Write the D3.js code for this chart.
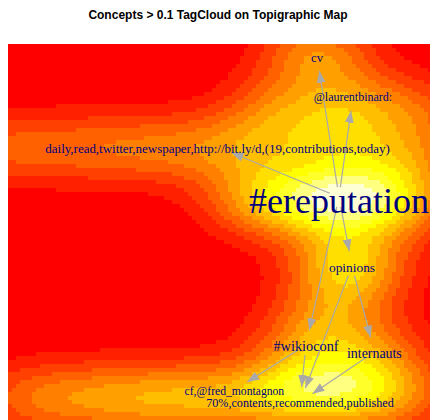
<!DOCTYPE html>
<html>
<head>
<meta charset="utf-8">
<script src="https://cdn.jsdelivr.net/npm/d3@7.9.0/dist/d3.min.js"></script>
<style>
  body { margin: 0; background: #fff; }
  svg { display: block; }
</style>
</head>
<body>
<svg id="chart" width="430" height="420"></svg>
<script>
const title = "Concepts > 0.1 TagCloud on Topigraphic Map";

// concepts on the map (map units) and their score
const concepts = ["cv", "@laurentbinard:", "daily,read,twitter,newspaper,http://bit.ly/d,(19,contributions,today)",
  "#ereputation", "opinions", "#wikioconf", "internauts", "cf,@fred_montagnon",
  "70%,contents,recommended,published"];
const conceptX = [77.25, 86.25, 52.4, 82.75, 86, 74.5, 91.6, 56.6, 73];
const conceptY = [94, 84, 71.25, 58.75, 41.5, 21.75, 20, 10.5, 7.5];
const conceptScore = [0.14, 0.115, 0.15, 1, 0.165, 0.2, 0.185, 0.102, 0.12];

// links between concepts
const linkFrom = ["#ereputation", "#ereputation", "#ereputation", "#ereputation", "#ereputation",
  "opinions", "opinions", "#wikioconf", "#wikioconf", "internauts"];
const linkTo = ["cv", "@laurentbinard:", "daily,read,twitter,newspaper,http://bit.ly/d,(19,contributions,today)",
  "opinions", "#wikioconf", "internauts", "70%,contents,recommended,published",
  "cf,@fred_montagnon", "70%,contents,recommended,published", "70%,contents,recommended,published"];

// documents on the map that make the topographic density
const docX = [62, 73, 81.75, 90.5, 99.25, 83, 83, 100, 103,
  77.25, 86.25, 68,
  -12, 3, 18, 33, 48, 63,
  63, 75.5, 86, 98,
  3, 14.25, 25.5, 36.75, 48,
  86, 75.5, 91.5, 82];
const docY = [58, 58, 58.5, 58, 56.75, 72, 46, 68, 80,
  94.25, 81.75, 80.5,
  71, 71, 71, 71, 71, 71,
  9.25, 10.5, 10.5, 9.25,
  8.5, 8.5, 8.5, 8.5, 8.5,
  41, 23, 20.5, 32];
const docWeight = [0.3, 0.28, 0.34, 0.32, 0.24, 0.3, 0.15, 0.26, 0.2,
  0.35, 0.28, 0.26,
  0.16, 0.16, 0.18, 0.2, 0.22, 0.25,
  0.33, 0.36, 0.34, 0.26,
  0.17, 0.17, 0.2, 0.22, 0.25,
  0.38, 0.28, 0.22, 0.22];

const heatColors = ["#FF0000", "#FF2000", "#FF4000", "#FF6000", "#FF8000", "#FF9F00",
  "#FFBF00", "#FFDF00", "#FFFF00", "#FFFF2A", "#FFFF80", "#FFFFD5"];

const svg = d3.select("#chart");

const nx = 108, ny = 97;
const x = d3.scaleLinear().domain([0, nx]).range([8, 440]);
const y = d3.scaleLinear().domain([0, ny]).range([432, 44]);
const bwX = 10, bwY = 6.5;

// kernel density on a grid
const cells = [];
for (let j = 0; j < ny; j++) {
  for (let i = 0; i < nx; i++) {
    const cx = i + 0.5, cy = j + 0.5;
    let z = 0;
    for (let k = 0; k < docX.length; k++) {
      const dx = (cx - docX[k]) / bwX, dy = (cy - docY[k]) / bwY;
      z += docWeight[k] * Math.exp(-0.5 * (dx * dx + dy * dy));
    }
    cells.push({ i, j, z });
  }
}

const color = d3.scaleQuantize()
  .domain(d3.extent(cells, d => d.z))
  .range(heatColors);

svg.append("g")
  .attr("shape-rendering", "crispEdges")
  .selectAll("rect")
  .data(cells)
  .join("rect")
  .attr("x", d => x(d.i))
  .attr("y", d => y(d.j + 1))
  .attr("width", d => x(d.i + 1) - x(d.i))
  .attr("height", d => y(d.j) - y(d.j + 1))
  .attr("fill", d => color(d.z));

svg.append("text")
  .attr("x", 218)
  .attr("y", 18.5)
  .attr("text-anchor", "middle")
  .style("font-family", "Liberation Sans, Arial, sans-serif")
  .style("font-weight", "bold")
  .style("font-size", "12px")
  .text(title);

// arrows
svg.append("defs").append("marker")
  .attr("id", "head")
  .attr("markerUnits", "userSpaceOnUse")
  .attr("viewBox", "0 -5 12 10")
  .attr("refX", 12)
  .attr("refY", 0)
  .attr("markerWidth", 12)
  .attr("markerHeight", 10)
  .attr("orient", "auto")
  .append("path")
  .attr("d", "M0,-4.5L12,0L0,4.5Z")
  .attr("fill", "#A9A9A9");

const pos = name => {
  const k = concepts.indexOf(name);
  return [x(conceptX[k]), y(conceptY[k])];
};

const links = linkFrom.map((s, i) => ({ s: pos(s), t: pos(linkTo[i]) }));
const startGap = 10, endGap = 15;

svg.append("g")
  .selectAll("line")
  .data(links)
  .join("line")
  .each(function (d) {
    const dx = d.t[0] - d.s[0], dy = d.t[1] - d.s[1];
    const len = Math.hypot(dx, dy);
    const ux = dx / len, uy = dy / len;
    d3.select(this)
      .attr("x1", d.s[0] + ux * startGap)
      .attr("y1", d.s[1] + uy * startGap)
      .attr("x2", d.t[0] - ux * endGap)
      .attr("y2", d.t[1] - uy * endGap);
  })
  .attr("stroke", "#A9A9A9")
  .attr("stroke-width", 1.2)
  .attr("marker-end", "url(#head)");

// labels
const size = d3.scaleLinear().domain([0.1, 1]).range([11.6, 36]);

svg.append("g")
  .selectAll("text")
  .data(concepts)
  .join("text")
  .attr("x", (d, i) => x(conceptX[i]))
  .attr("y", (d, i) => y(conceptY[i]) + 0.45 * size(conceptScore[i]))
  .attr("text-anchor", "middle")
  .style("font-family", "Liberation Serif, Times New Roman, serif")
  .style("font-size", (d, i) => size(conceptScore[i]) + "px")
  .attr("fill", "#000080")
  .text(d => d);
</script>
</body>
</html>
